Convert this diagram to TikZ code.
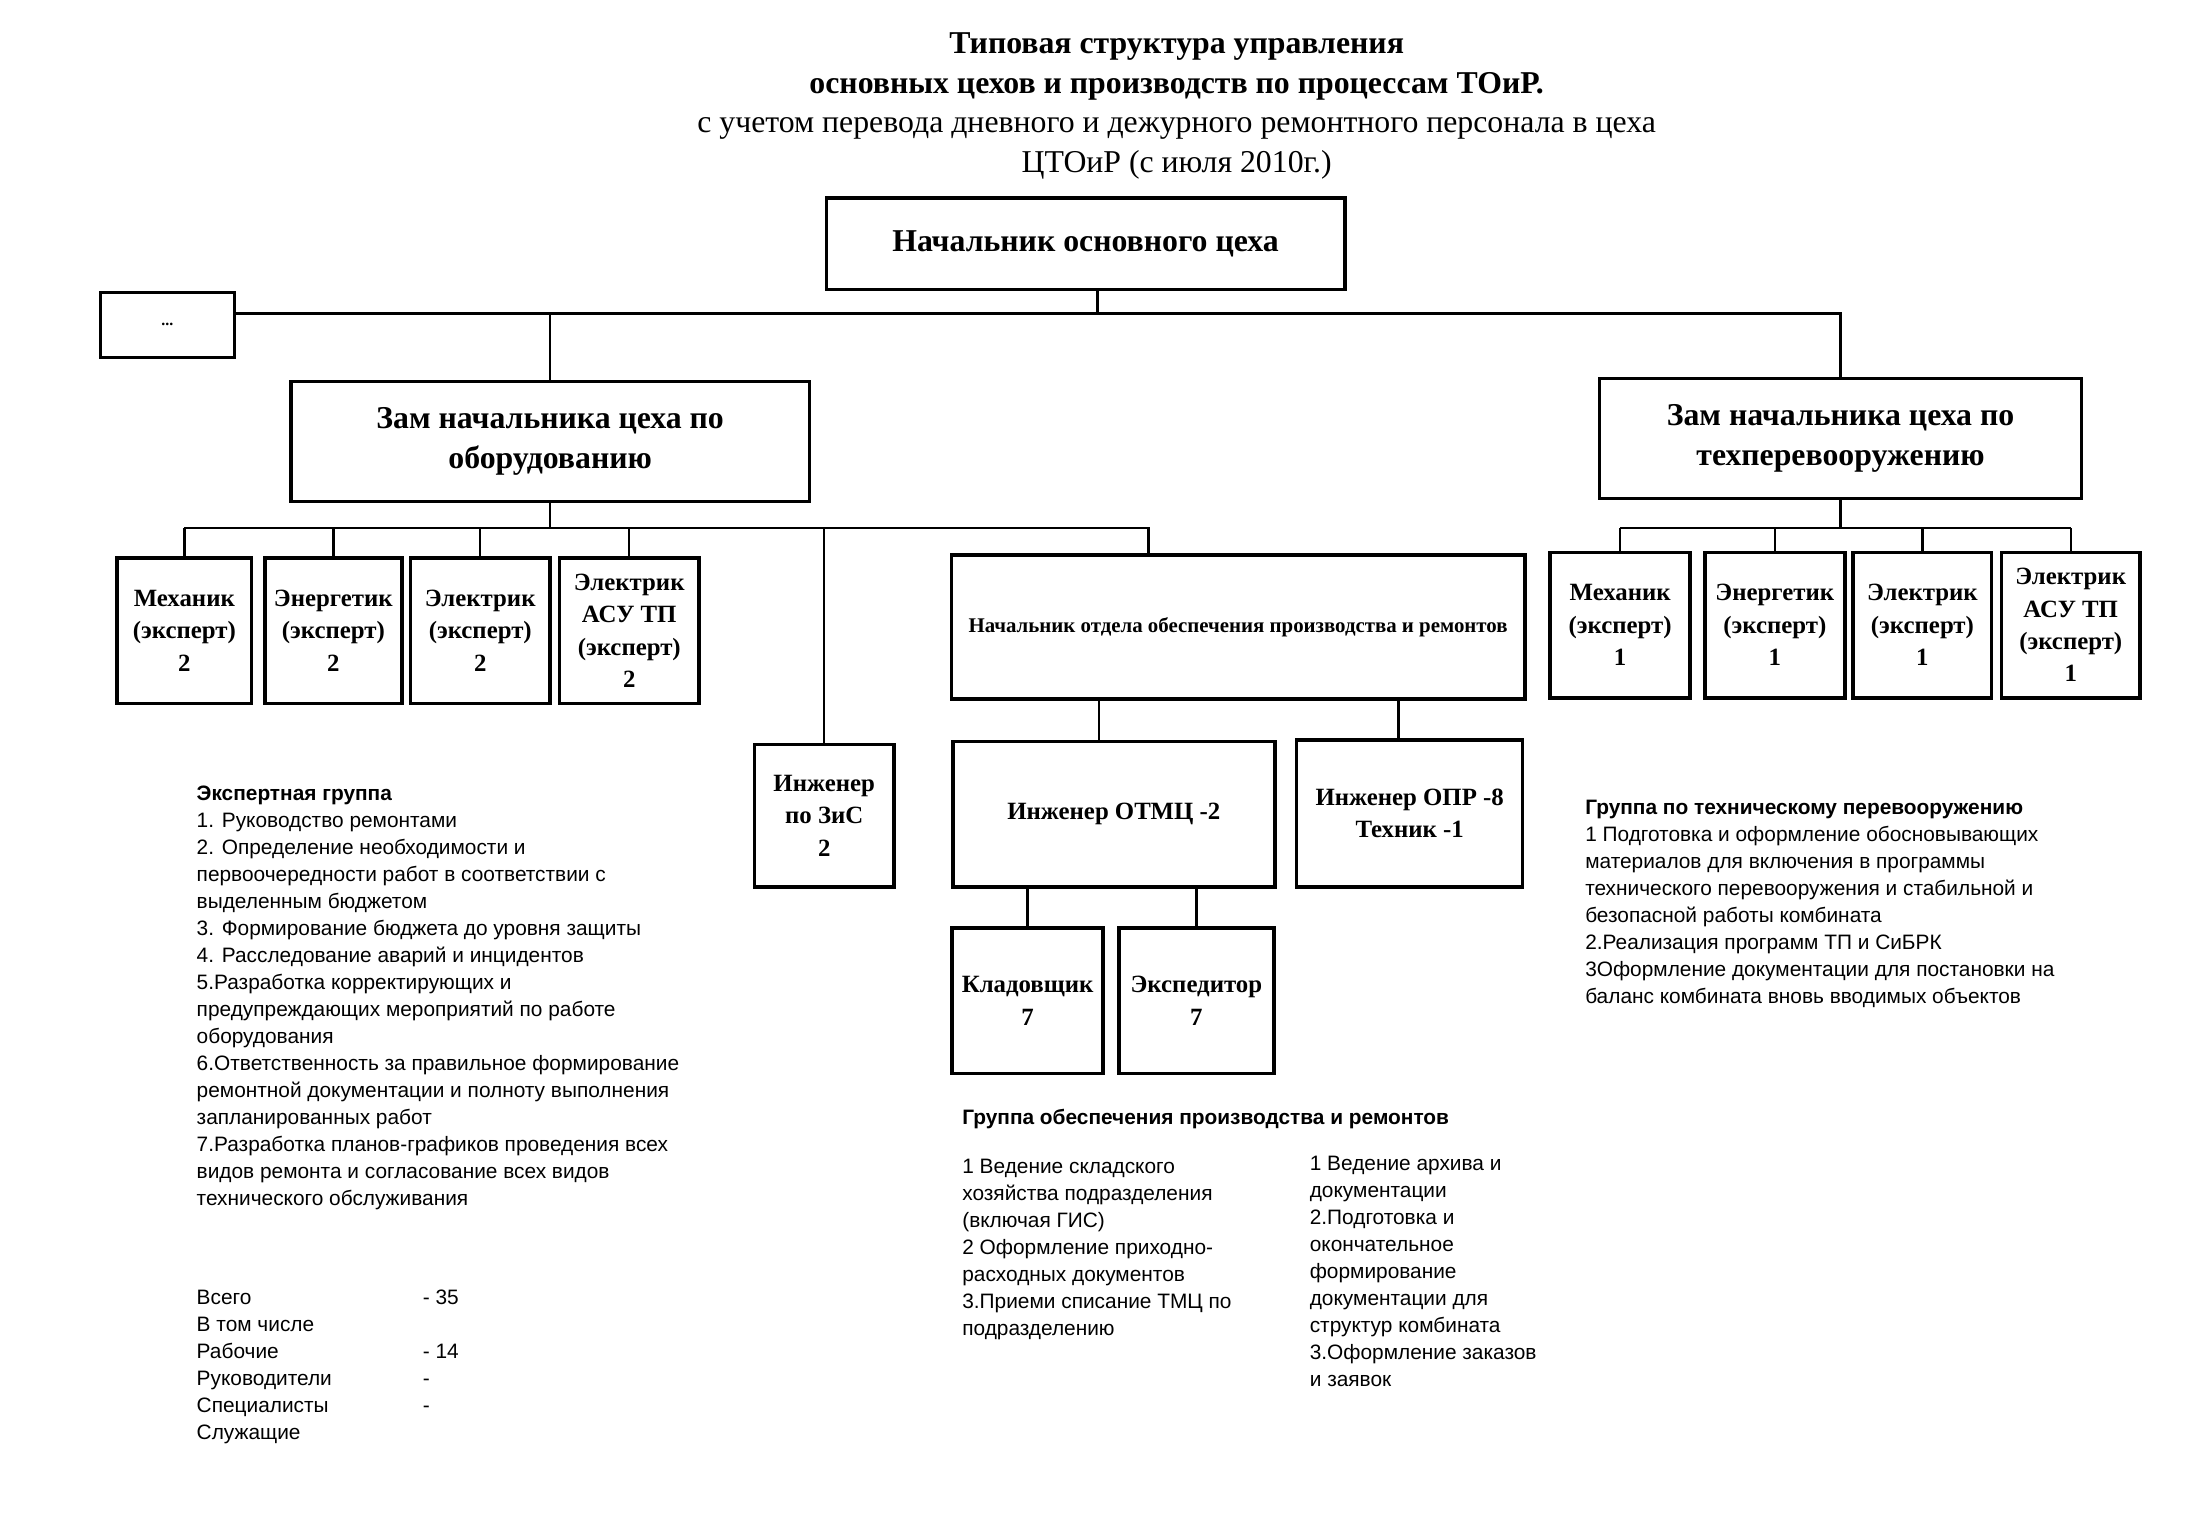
\documentclass[tikz,border=0pt]{standalone}
\usepackage{fontspec}
\setmainfont{Liberation Serif}
\setsansfont{Liberation Sans}
\usetikzlibrary{positioning}

\begin{document}
\begin{tikzpicture}[
    % Global Styles
    x=0.025cm, y=-0.025cm,
    % size of a box in picture units
    wh/.style 2 args={minimum width=#1*0.025cm, minimum height=#2*0.025cm},
    % Style for the boxes
    box/.style={draw, line width=1.8pt, inner sep=0pt, align=center,
        font=\bfseries\fontsize{12.5}{16.3}\selectfont},
    big_box/.style={box, font=\bfseries\fontsize{16}{20}\selectfont},
    % Style for connectors
    link/.style={line width=1.2pt},
    % Style for the text blocks
    note/.style={anchor=north west, align=left, inner sep=0pt,
        font=\sffamily\fontsize{10.5}{13.6}\selectfont},
    note_head/.style={note, font=\sffamily\bfseries\fontsize{10.5}{13.6}\selectfont}
]

\useasboundingbox (0,0) rectangle (1566,1081.7);

%% --- TITLE ---
\node[align=center, font=\fontsize{16}{19.9}\selectfont] (title) at (833,75)
    {\textbf{Типовая структура управления}\\
     \textbf{основных цехов и производств по процессам ТОиР.}\\
     с учетом перевода дневного и дежурного ремонтного персонала в цеха\\
     ЦТОиР (с июля 2010г.)};

%% --- TOP LEVEL ---
\node[big_box, wh={367}{65}] (boss) at (768.5,172.5) {Начальник основного цеха};
\node[box, wh={95}{46}, font=\bfseries\fontsize{8}{10}\selectfont] (dots) at (118.5,230) {...};

\node[big_box, wh={367}{85}] (zamA) at (389.5,312.5) {Зам начальника цеха по\\оборудованию};
\node[big_box, wh={341}{85}] (zamB) at (1303,310.5) {Зам начальника цеха по\\техперевооружению};

%% --- BRANCH A: EQUIPMENT ---
\node[box, wh={95}{103}] (mechA) at (130.5,446.5) {Механик\\(эксперт)\\2};
\node[box, wh={97}{103}] (enerA) at (236,446.5) {Энергетик\\(эксперт)\\2};
\node[box, wh={99}{103}] (elecA) at (340,446.5) {Электрик\\(эксперт)\\2};
\node[box, wh={99}{103}] (asuA) at (445.5,446.5) {Электрик\\АСУ ТП\\(эксперт)\\2};

\node[box, wh={406}{102}, font=\bfseries\fontsize{10.5}{13}\selectfont] (headS) at (876.5,444)
    {Начальник отдела обеспечения производства и ремонтов};

\node[box, wh={99}{101}] (engZ) at (583.5,577.5) {Инженер\\по ЗиС\\2};
\node[box, wh={228}{103}] (engT) at (788.5,576.5) {Инженер ОТМЦ -2};
\node[box, wh={160}{104}] (engO) at (998,576) {Инженер ОПР -8\\Техник -1};

\node[box, wh={107}{103}] (store) at (727.5,708.5) {Кладовщик\\7};
\node[box, wh={110}{103}] (expd) at (847,708.5) {Экспедитор\\7};

%% --- BRANCH B: RE-EQUIPMENT ---
\node[box, wh={99}{103}] (mechB) at (1147,442.5) {Механик\\(эксперт)\\1};
\node[box, wh={99}{103}] (enerB) at (1256.5,442.5) {Энергетик\\(эксперт)\\1};
\node[box, wh={98}{103}] (elecB) at (1361,442.5) {Электрик\\(эксперт)\\1};
\node[box, wh={98}{103}] (asuB) at (1466,442.5) {Электрик\\АСУ ТП\\(эксперт)\\1};

%% --- CONNECTORS ---
% top bus
\coordinate (busTop) at (777,222);
\draw[link] (boss.south -| busTop) -- (busTop);
\draw[link] (dots.east |- busTop) -- (zamB.north |- busTop) -- (zamB.north);
\draw[link] (zamA.north) -- (zamA.north |- busTop);

% bus under branch A
\coordinate (busA) at (391,374);
\coordinate (dropS) at (813,374);
\draw[link] (zamA.south) -- (zamA.south |- busA);
\draw[link] (mechA.north |- busA) -- (dropS) -- (dropS |- headS.north);
\foreach \n in {mechA, enerA, elecA, asuA, engZ}
    \draw[link] (\n.north) -- (\n.north |- busA);

% supply department
\coordinate (dropT) at (778,0);
\coordinate (dropO) at (990,0);
\draw[link] (headS.south -| dropT) -- (engT.north -| dropT);
\draw[link] (headS.south -| dropO) -- (engO.north -| dropO);
\draw[link] (engT.south -| store.north) -- (store.north);
\draw[link] (engT.south -| expd.north) -- (expd.north);

% bus under branch B
\coordinate (busB) at (1306,374);
\draw[link] (zamB.south) -- (zamB.south |- busB);
\draw[link] (mechB.north |- busB) -- (asuB.north |- busB);
\foreach \n in {mechB, enerB, elecB, asuB}
    \draw[link] (\n.north) -- (\n.north |- busB);

%% --- TEXT BLOCKS ---
\node[note] (expertNote) at (139,556)
    {\textbf{Экспертная группа}\\
     1. Руководство ремонтами\\
     2. Определение необходимости и\\
     первоочередности работ в соответствии с\\
     выделенным бюджетом\\
     3. Формирование бюджета до уровня защиты\\
     4. Расследование аварий и инцидентов\\
     5.Разработка корректирующих и\\
     предупреждающих мероприятий по работе\\
     оборудования\\
     6.Ответственность за правильное формирование\\
     ремонтной документации и полноту выполнения\\
     запланированных работ\\
     7.Разработка планов-графиков проведения всех\\
     видов ремонта и согласование всех видов\\
     технического обслуживания};

\node[note] (staffNote) at (139,909.5)
    {\begin{tabular}{@{}p{4.0cm}@{}l@{}}
     Всего & - 35\\
     В том числе & \\
     Рабочие & - 14\\
     Руководители & -\\
     Специалисты & -\\
     Служащие &
     \end{tabular}};

\node[note_head] (supplyHead) at (681,785) {Группа обеспечения производства и ремонтов};
\node[note] (supplyLeft) at (681,820)
    {1 Ведение складского\\
     хозяйства подразделения\\
     (включая ГИС)\\
     2 Оформление приходно-\\
     расходных документов\\
     3.Приеми списание ТМЦ по\\
     подразделению};
\node[note] (supplyRight) at (927,818)
    {1 Ведение архива и\\
     документации\\
     2.Подготовка и\\
     окончательное\\
     формирование\\
     документации для\\
     структур комбината\\
     3.Оформление заказов\\
     и заявок};

\node[note] (techNote) at (1122,566)
    {\textbf{Группа по техническому перевооружению}\\
     1 Подготовка и оформление обосновывающих\\
     материалов для включения в программы\\
     технического перевооружения и стабильной и\\
     безопасной работы комбината\\
     2.Реализация программ ТП и СиБРК\\
     3Оформление документации для постановки на\\
     баланс комбината вновь вводимых объектов};

\end{tikzpicture}
\end{document}
